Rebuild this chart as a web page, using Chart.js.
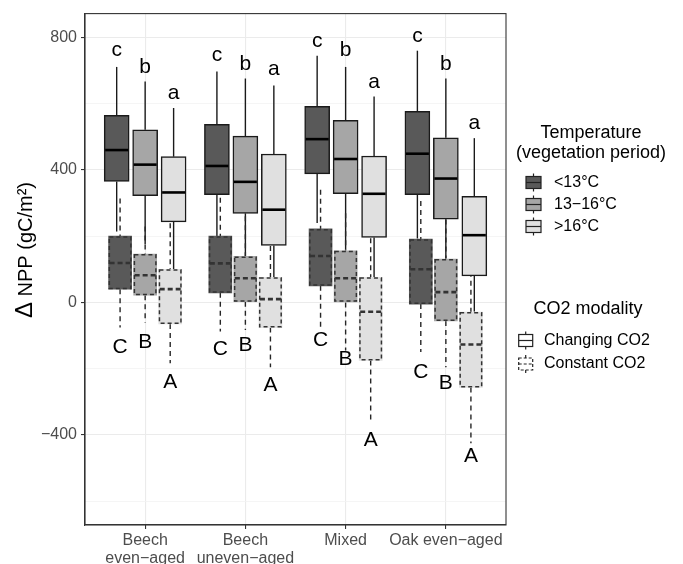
<!DOCTYPE html>
<html>
<head>
<meta charset="utf-8">
<script src="https://cdn.jsdelivr.net/npm/chart.js@4.4.0/dist/chart.umd.min.js"></script>
<style>
  html, body { margin: 0; padding: 0; background: #fff; }
</style>
</head>
<body>
<canvas id="chart" width="683" height="564"></canvas>
<script>
const categories = [['Beech', 'even−aged'], ['Beech', 'uneven−aged'], ['Mixed'], ['Oak even−aged']]
const temperatures = ['<13°C', '13−16°C', '>16°C']
const co2Modes = ['Changing CO2', 'Constant CO2']
const yTicks = [-400, 0, 400, 800]
const yMinorTicks = [-600, -200, 200, 600]

// box stats, [category][temperature]
const chgHigh = [[711, 667, 587], [697, 676, 655], [745, 711, 622], [760, 676, 496]]
const chgQ3 = [[565, 521, 440], [538, 502, 448], [592, 550, 442], [577, 497, 320]]
const chgMedian = [[460, 416, 332], [412, 364, 280], [493, 433, 328], [449, 374, 203]]
const chgQ1 = [[365, 322, 243], [325, 269, 172], [388, 328, 196], [325, 251, 80]]
const chgLow = [[214, 176, 100], [200, 140, 76], [240, 160, 76], [193, 134, -28]]

const conHigh = [[314, 229, 239], [316, 260, 170], [340, 269, 194], [306, 250, 120]]
const conQ3 = [[200, 146, 100], [200, 139, 76], [222, 156, 76], [191, 131, -29]]
const conMedian = [[119, 82, 40], [118, 73, 10], [140, 73, -28], [100, 31, -127]]
const conQ1 = [[40, 22, -65], [29, 2, -76], [50, 0, -175], [-5, -56, -257]]
const conLow = [[-76, -61, -184], [-88, -83, -196], [-76, -145, -365], [-150, -196, -425]]

// significance letters and where they sit (NPP units)
const chgLetters = ['c', 'b', 'a']
const conLetters = ['C', 'B', 'A']
const chgLetterAt = [[760, 709, 631], [745, 719, 703], [790, 760, 664], [805, 719, 542]]
const conLetterAt = [[-134, -121, -241], [-140, -130, -250], [-115, -172, -415], [-211, -244, -464]]

const FONT = "'Liberation Sans', Arial, sans-serif"
const fills = ['#595959', '#a6a6a6', '#e0e0e0']

const groups = [
  { high: chgHigh, q3: chgQ3, median: chgMedian, q1: chgQ1, low: chgLow, letters: chgLetters, letterAt: chgLetterAt, offset: 0.284, width: 25, dashed: false },
  { high: conHigh, q3: conQ3, median: conMedian, q1: conQ1, low: conLow, letters: conLetters, letterAt: conLetterAt, offset: 0.25, width: 23, dashed: true },
]

const datasets = []
groups.forEach((g, gi) => {
  temperatures.forEach((t, ti) => {
    datasets.push({
      label: `${co2Modes[gi]} ${t}`,
      data: categories.map((c, ci) => ({ x: ci + 1 + (ti - 1) * g.offset, y: [g.q1[ci][ti], g.q3[ci][ti]] })),
      backgroundColor: fills[ti],
      borderColor: g.dashed ? 'rgba(0,0,0,0)' : '#1a1a1a',
      borderWidth: g.dashed ? 0 : 1.5,
      borderSkipped: false,
      barThickness: g.width,
      grouped: false,
      group: gi,
      temp: ti,
    })
  })
})

function eachBox(chart, fn) {
  chart.data.datasets.forEach((ds, di) => {
    const g = groups[ds.group]
    chart.getDatasetMeta(di).data.forEach((bar, ci) => fn(bar.getProps(['x', 'y', 'base', 'width'], true), g, ci, ds.temp))
  })
}

function line(ctx, x1, y1, x2, y2) {
  ctx.beginPath()
  ctx.moveTo(x1, y1)
  ctx.lineTo(x2, y2)
  ctx.stroke()
}

function drawKey(ctx, cx, cy, w, fill, dashed) {
  ctx.save()
  ctx.strokeStyle = '#222'
  ctx.lineWidth = 1.2
  ctx.setLineDash(dashed ? [3, 2] : [])
  line(ctx, cx, cy - 9, cx, cy - 6)
  line(ctx, cx, cy + 6, cx, cy + 9)
  ctx.fillStyle = fill
  ctx.fillRect(cx - w / 2, cy - 6, w, 12)
  ctx.strokeRect(cx - w / 2, cy - 6, w, 12)
  line(ctx, cx - w / 2, cy, cx + w / 2, cy)
  ctx.restore()
}

const boxplotPlugin = {
  id: 'boxplot',
  beforeDatasetsDraw(chart) {
    const { ctx, scales: { y } } = chart
    eachBox(chart, (bar, g, ci, ti) => {
      ctx.save()
      ctx.strokeStyle = g.dashed ? '#262626' : '#1a1a1a'
      ctx.lineWidth = 1.4
      ctx.setLineDash(g.dashed ? [5, 4] : [])
      line(ctx, bar.x, y.getPixelForValue(g.high[ci][ti]), bar.x, y.getPixelForValue(g.q3[ci][ti]))
      line(ctx, bar.x, y.getPixelForValue(g.q1[ci][ti]), bar.x, y.getPixelForValue(g.low[ci][ti]))
      ctx.restore()
    })
  },
  afterDatasetsDraw(chart) {
    const { ctx, scales: { y } } = chart
    eachBox(chart, (bar, g, ci, ti) => {
      const left = bar.x - bar.width / 2
      const right = bar.x + bar.width / 2
      ctx.save()
      if (g.dashed) {
        const top = Math.min(bar.y, bar.base)
        const h = Math.abs(bar.base - bar.y)
        ctx.strokeStyle = '#333'
        ctx.lineWidth = 1.5
        ctx.setLineDash([4, 3])
        ctx.strokeRect(left + 0.75, top + 0.75, bar.width - 1.5, h - 1.5)
      }
      const my = y.getPixelForValue(g.median[ci][ti])
      ctx.strokeStyle = g.dashed ? '#333' : '#000'
      ctx.lineWidth = 2.6
      ctx.setLineDash(g.dashed ? [5, 3] : [])
      line(ctx, left + 1, my, right - 1, my)
      ctx.setLineDash([])
      ctx.fillStyle = '#000'
      ctx.font = `21px ${FONT}`
      ctx.textAlign = 'center'
      ctx.textBaseline = 'middle'
      ctx.fillText(g.letters[ti], bar.x, y.getPixelForValue(g.letterAt[ci][ti]))
      ctx.restore()
    })
  },
  afterDraw(chart) {
    const { ctx, chartArea: a } = chart
    ctx.save()
    ctx.strokeStyle = '#333'
    ctx.lineWidth = 1.1
    ctx.strokeRect(a.left, a.top, a.right - a.left, a.bottom - a.top)

    // y axis title
    ctx.save()
    ctx.translate(25, 250)
    ctx.rotate(-Math.PI / 2)
    ctx.fillStyle = '#000'
    ctx.textBaseline = 'middle'
    ctx.textAlign = 'left'
    ctx.font = `24px ${FONT}`
    const wDelta = ctx.measureText('Δ').width
    ctx.font = `20px ${FONT}`
    const rest = ' NPP (gC/m²)'
    const wRest = ctx.measureText(rest).width
    const x0 = -(wDelta + wRest) / 2
    ctx.font = `24px ${FONT}`
    ctx.fillText('Δ', x0, 0)
    ctx.font = `20px ${FONT}`
    ctx.fillText(rest, x0 + wDelta, 1)
    ctx.restore()

    // legends
    ctx.fillStyle = '#000'
    ctx.textBaseline = 'middle'
    ctx.textAlign = 'center'
    ctx.font = `18px ${FONT}`
    ctx.fillText('Temperature', 591, 133)
    ctx.fillText('(vegetation period)', 591, 153)
    ctx.fillText('CO2 modality', 588, 309)
    ctx.textAlign = 'left'
    ctx.font = `16px ${FONT}`
    temperatures.forEach((t, i) => {
      const cy = 182.5 + 22 * i
      drawKey(ctx, 533.5, cy, 15, fills[i], false)
      ctx.fillText(t, 554, cy)
    })
    co2Modes.forEach((m, i) => {
      const cy = 340.5 + 23.5 * i
      drawKey(ctx, 525.7, cy, 14, '#fff', i === 1)
      ctx.fillText(m, 544, cy)
    })
    ctx.restore()
  },
}

new Chart(document.getElementById('chart'), {
  type: 'bar',
  data: { datasets },
  options: {
    responsive: false,
    animation: false,
    devicePixelRatio: 1,
    layout: { padding: { top: 11, right: 177, left: 0, bottom: 0 } },
    plugins: { legend: { display: false }, tooltip: { enabled: false } },
    scales: {
      x: {
        type: 'linear',
        min: 0.4,
        max: 4.6,
        offset: false,
        afterBuildTicks: (s) => { s.ticks = categories.map((c, i) => ({ value: i + 1 })) },
        afterFit: (s) => { s.height = 39 },
        ticks: {
          callback: (v) => categories[Math.round(v) - 1],
          color: '#4d4d4d',
          font: { family: FONT, size: 16, lineHeight: 1.125 },
          padding: 3,
          maxRotation: 0,
          autoSkip: false,
        },
        grid: { color: '#ebebeb', lineWidth: 1.1, tickLength: 4, tickColor: '#333', offset: false },
        border: { color: '#333', width: 1.1 },
      },
      y: {
        min: -672,
        max: 872,
        afterBuildTicks: (s) => { s.ticks = [...yMinorTicks, ...yTicks].sort((a, b) => a - b).map((v) => ({ value: v })) },
        afterFit: (s) => { s.width = 85 },
        ticks: {
          callback: (v) => (yTicks.includes(v) ? String(v).replace('-', '−') : ''),
          color: '#4d4d4d',
          font: { family: FONT, size: 16 },
          padding: 4,
        },
        grid: {
          color: (c) => (yTicks.includes(c.tick.value) ? '#ebebeb' : '#f3f3f3'),
          lineWidth: (c) => (yTicks.includes(c.tick.value) ? 1.1 : 0.8),
          tickColor: (c) => (yTicks.includes(c.tick.value) ? '#333' : 'rgba(0,0,0,0)'),
          tickLength: 4,
        },
        border: { color: '#333', width: 1.1 },
      },
    },
  },
  plugins: [boxplotPlugin],
})
</script>
</body>
</html>
